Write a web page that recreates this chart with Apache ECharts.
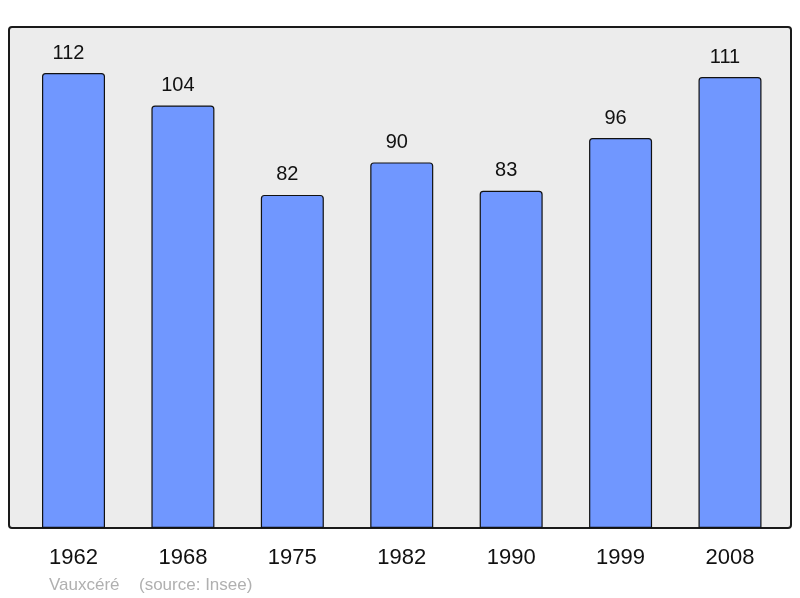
<!DOCTYPE html>
<html>
<head>
<meta charset="utf-8">
<script src="https://cdn.jsdelivr.net/npm/echarts@6/dist/echarts.min.js"></script>
<style>html,body{margin:0;padding:0;background:#fff;}#c{width:800px;height:598px;}</style>
</head>
<body>
<div id="c"></div>
<script>
const years = ['1962','1968','1975','1982','1990','1999','2008'];
const population = [112, 104, 82, 90, 83, 96, 111];
const townName = 'Vauxcéré';
const sourceText = '(source: Insee)';

const chart = echarts.init(document.getElementById('c'), null, {renderer: 'canvas'});
chart.setOption({
  animation: false,
  backgroundColor: '#ffffff',
  textStyle: {fontFamily: 'Liberation Sans, Arial, sans-serif'},
  graphic: {
    elements: [
      {type: 'rect', z: -10, shape: {x: 9, y: 27, width: 782, height: 501, r: 3},
       style: {fill: '#ececec', stroke: '#1a1a1a', lineWidth: 2}},
      {type: 'text', left: 49, top: 577, style: {text: townName, fill: '#b0b0b0', font: '17px Liberation Sans, Arial, sans-serif'}},
      {type: 'text', left: 139, top: 577, style: {text: sourceText, fill: '#b0b0b0', font: '17px Liberation Sans, Arial, sans-serif'}}
    ]
  },
  grid: {left: 18.8, right: 15.3, top: 40.5, bottom: 70, containLabel: false},
  xAxis: {
    type: 'category', data: years,
    axisLine: {show: false}, axisTick: {show: false},
    axisLabel: {color: '#111', fontSize: 22, margin: 19, fontFamily: 'Liberation Sans, Arial, sans-serif'}
  },
  yAxis: {type: 'value', min: 0, max: 120, show: false, splitLine: {show: false}},
  series: [{
    type: 'bar', data: population, barWidth: 63,
    itemStyle: {color: '#7097ff', borderColor: '#111', borderWidth: 1.2, borderRadius: [3,3,0,0]},
    label: {show: true, position: 'top', distance: 10, offset: [-5, 0], color: '#111', fontSize: 20,
            fontFamily: 'Liberation Sans, Arial, sans-serif'}
  }]
});
</script>
</body>
</html>
